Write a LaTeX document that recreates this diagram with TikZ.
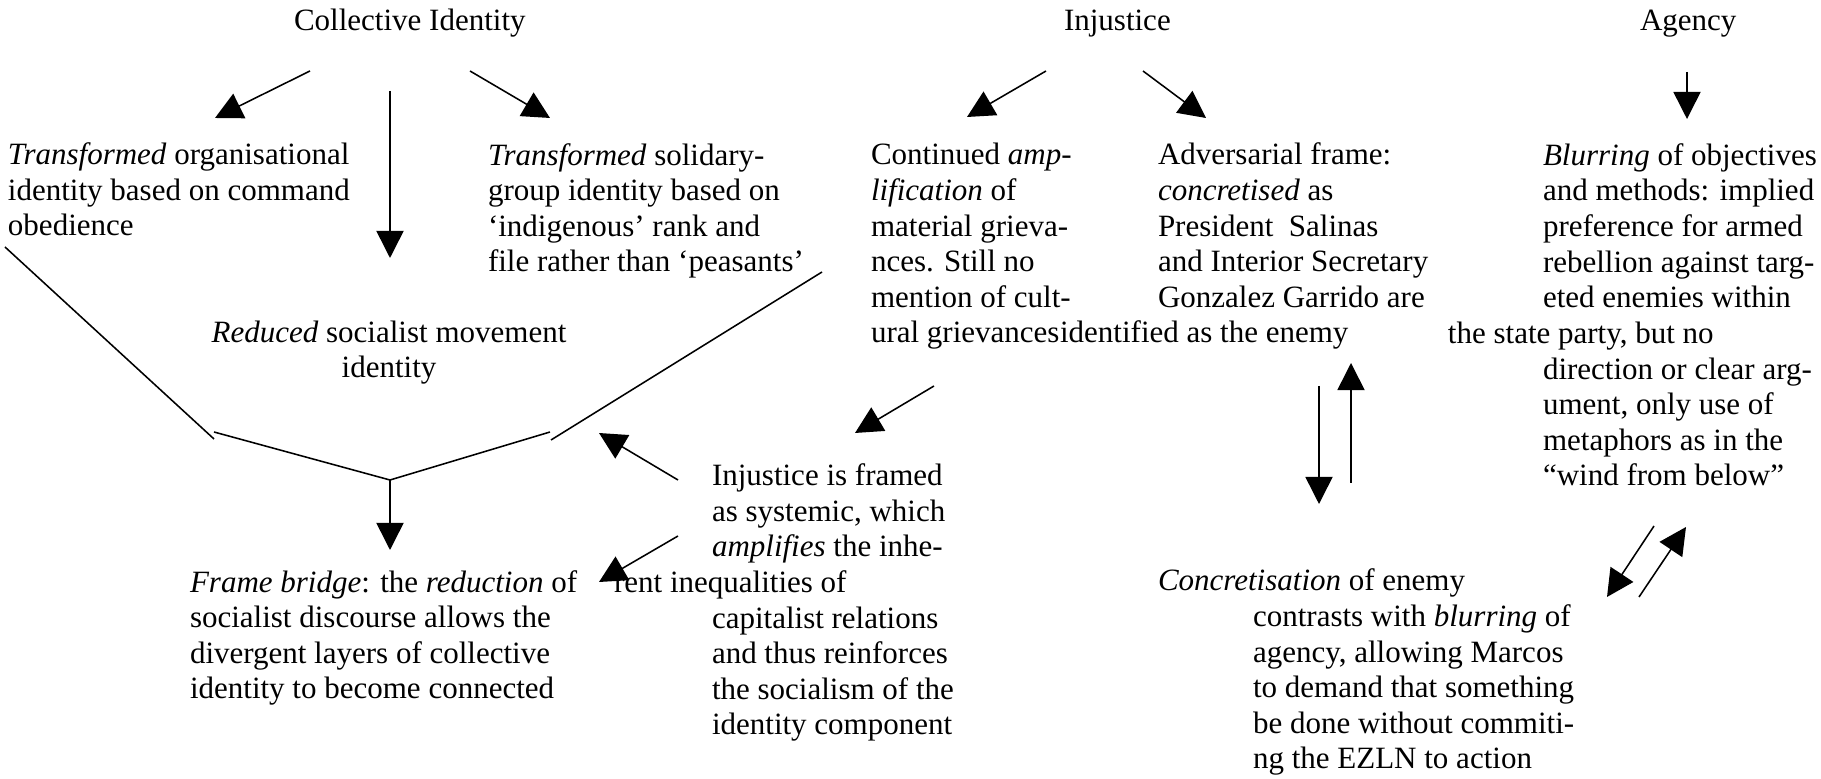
\documentclass[tikz,border=0pt]{standalone}
\usepackage{fontspec}
\setmainfont{Liberation Serif}
\usetikzlibrary{arrows.meta}

\begin{document}
\begin{tikzpicture}[
  x=0.3871pt, y=-0.3871pt,
  every node/.style={inner sep=0pt,outer sep=0pt},
  % base anchor of a block = baseline of its last line
  txt/.style={align=left,anchor=base west,font=\fontsize{12pt}{13.8pt}\selectfont},
  head/.style={txt},
  arr/.style={-{Triangle[length=10.5pt,width=10.5pt]},line width=0.6pt},
  ln/.style={line width=0.6pt}
]
\useasboundingbox (0,0) rectangle (1821,779);

% headings
\node[head] (collective) at (294,31) {Collective Identity};
\node[head] (injustice) at (1064,31) {Injustice};
\node[head] (agency) at (1640,31) {Agency};

% first row
\node[txt] (orgid) at (8,236) {\textit{Transformed} organisational\\identity based on command\\obedience};
\node[txt] (solid) at (488,272) {\textit{Transformed} solidary-\\group identity based on\\‘indigenous’ rank and\\file rather than ‘peasants’};
\node[txt] (ampl) at (871,343) {Continued \textit{amp-}\\\textit{lification} of\\material grieva-\\nces. Still no\\mention of cult-\\ural grievances};
\node[txt] (advers) at (1158,343) {Adversarial frame:\\\textit{concretised} as\\President\ \ Salinas\\and Interior Secretary\\Gonzalez Garrido are\\\hspace*{-37.9pt}identified as the enemy};
\node[txt] (blur) at (1543,486) {\textit{Blurring} of objectives\\and methods: implied\\preference for armed\\rebellion against targ-\\eted enemies within\\\hspace*{-36.8pt}the state party, but no\\direction or clear arg-\\ument, only use of\\metaphors as in the\\“wind from below”};
\node[txt,align=center,anchor=base] (reduced) at (389,378) {\textit{Reduced} socialist movement\\identity};

% second row
\node[txt] (systemic) at (712,735) {Injustice is framed\\as systemic, which\\\textit{amplifies} the inhe-\\\hspace*{-37.9pt}rent inequalities of\\capitalist relations\\and thus reinforces\\the socialism of the\\identity component};
\node[txt] (bridge) at (190,699) {\textit{Frame bridge}: the \textit{reduction} of\\socialist discourse allows the\\divergent layers of collective\\identity to become connected};
\node[txt] (concret) at (1158,769) {\textit{Concretisation} of enemy\\\hspace*{36.8pt}contrasts with \textit{blurring} of\\\hspace*{36.8pt}agency, allowing Marcos\\\hspace*{36.8pt}to demand that something\\\hspace*{36.8pt}be done without commiti-\\\hspace*{36.8pt}ng the EZLN to action};

% arrow ends
\coordinate (cl0) at (310,71);   \coordinate (cl1) at (215,118);
\coordinate (cd0) at (390,91);   \coordinate (cd1) at (390,258);
\coordinate (cr0) at (470,71);   \coordinate (cr1) at (550,118);
\coordinate (il0) at (1046,71);  \coordinate (il1) at (967,117);
\coordinate (ir0) at (1143,71);  \coordinate (ir1) at (1206,118);
\coordinate (ad0) at (1687,72);  \coordinate (ad1) at (1687,119);
\coordinate (vl0) at (5,247);    \coordinate (vl1) at (214,439);
\coordinate (vm0) at (214,432);  \coordinate (vm1) at (390,480);
\coordinate (vm2) at (550,432);
\coordinate (vr0) at (551,440);  \coordinate (vr1) at (822,272);
\coordinate (vd1) at (390,550);
\coordinate (sa0) at (678,480);  \coordinate (sa1) at (599,433);
\coordinate (sb0) at (934,386);  \coordinate (sb1) at (855,433);
\coordinate (sc0) at (678,536);  \coordinate (sc1) at (599,582);
\coordinate (ed0) at (1319,386); \coordinate (ed1) at (1319,504);
\coordinate (eu0) at (1351,483); \coordinate (eu1) at (1351,363);
\coordinate (bd0) at (1654,526); \coordinate (bd1) at (1607,597);
\coordinate (bu0) at (1639,597); \coordinate (bu1) at (1686,527);

\draw[arr] (cl0) -- (cl1);
\draw[arr] (cd0) -- (cd1);
\draw[arr] (cr0) -- (cr1);
\draw[arr] (il0) -- (il1);
\draw[arr] (ir0) -- (ir1);
\draw[arr] (ad0) -- (ad1);

% the bridge
\draw[ln] (vl0) -- (vl1);
\draw[ln] (vm0) -- (vm1) -- (vm2);
\draw[ln] (vr0) -- (vr1);
\draw[arr] (vm1) -- (vd1);

\draw[arr] (sa0) -- (sa1);
\draw[arr] (sb0) -- (sb1);
\draw[arr] (sc0) -- (sc1);
\draw[arr] (ed0) -- (ed1);
\draw[arr] (eu0) -- (eu1);
\draw[arr] (bd0) -- (bd1);
\draw[arr] (bu0) -- (bu1);
\end{tikzpicture}
\end{document}
